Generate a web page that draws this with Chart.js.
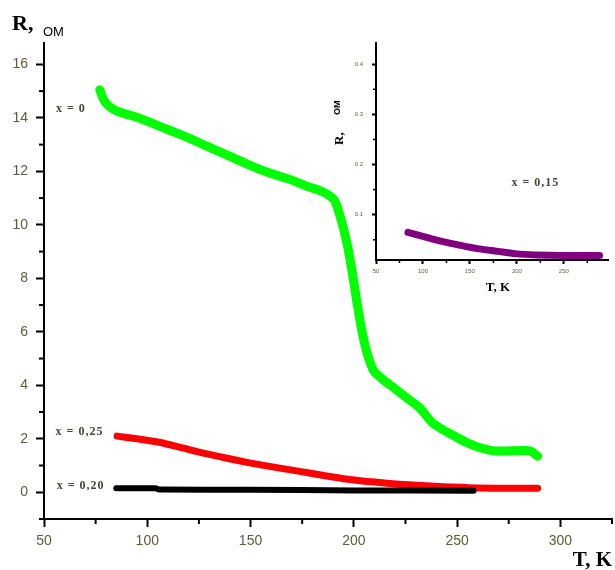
<!DOCTYPE html>
<html>
<head>
<meta charset="utf-8">
<script src="https://cdn.jsdelivr.net/npm/chart.js@4.4.0/dist/chart.umd.min.js"></script>
<style>
  html, body { margin: 0; padding: 0; background: #fff; }
  #wrap { position: relative; width: 615px; height: 570px; }
  #main-chart { position: absolute; left: 0; top: 0; }
  #inset-chart { position: absolute; left: 320px; top: 30px; }
</style>
</head>
<body>
<div id="wrap">
  <canvas id="main-chart" width="615" height="570"></canvas>
  <canvas id="inset-chart" width="295" height="275"></canvas>
</div>
<script>
// main plot: R (Ohm) vs T (K)
const tempX0 = [77, 78.5, 80, 83, 88, 96, 104, 112, 120, 128.6, 136, 144.7, 152, 160.7, 169, 177, 183, 187, 190.8, 194, 197, 199.5, 201.5, 204, 206.8, 210, 216, 222, 227, 232, 238, 244, 250, 255, 259.7, 267.5, 276, 285.4, 289];
const resX0  = [15.05, 14.75, 14.55, 14.35, 14.18, 14.0, 13.75, 13.5, 13.25, 12.95, 12.7, 12.4, 12.15, 11.9, 11.7, 11.45, 11.3, 11.15, 10.9, 10.15, 9.2, 8.1, 7.1, 6.0, 5.1, 4.5, 4.1, 3.75, 3.45, 3.15, 2.6, 2.3, 2.05, 1.85, 1.7, 1.55, 1.55, 1.55, 1.35];

const tempX25 = [85.4, 95, 105.8, 115, 125, 137, 149.5, 162, 173.8, 186, 198, 210, 222, 235, 246.6, 260, 275, 289];
const resX25  = [2.1, 2.0, 1.87, 1.7, 1.5, 1.3, 1.1, 0.93, 0.78, 0.62, 0.48, 0.38, 0.3, 0.24, 0.2, 0.16, 0.15, 0.15];

const tempX20 = [85, 104, 106, 150, 200, 258];
const resX20  = [0.15, 0.15, 0.1, 0.09, 0.07, 0.06];

// inset: x = 0,15
const tempX15 = [84, 100, 120, 140, 160, 180, 200, 220, 250, 288];
const resX15  = [0.065, 0.057, 0.047, 0.039, 0.032, 0.027, 0.022, 0.020, 0.019, 0.019];

const mainMinorX = [75, 125, 175, 225, 275, 325];
const mainMinorY = [-1, 1, 3, 5, 7, 9, 11, 13, 15];
const insetMinorX = [75, 125, 175, 225, 275];
const insetMinorY = [0.05, 0.15, 0.25, 0.35];

const tickColor = '#5c5c3a';
const labelColor = '#45453a';

function toPoints(xs, ys) {
    return xs.map((t, i) => ({ x: t, y: ys[i] }));
}

const minorTicks = {
    id: 'minorTicks',
    afterDraw(chart, args, opts) {
        const ctx = chart.ctx;
        const xs = chart.scales.x;
        const ys = chart.scales.y;
        ctx.save();
        ctx.strokeStyle = '#000';
        ctx.lineWidth = opts.width;
        opts.xValues.forEach(v => {
            const px = xs.getPixelForValue(v);
            ctx.beginPath();
            ctx.moveTo(px, xs.top);
            ctx.lineTo(px, xs.top + opts.length);
            ctx.stroke();
        });
        opts.yValues.forEach(v => {
            const py = ys.getPixelForValue(v);
            ctx.beginPath();
            ctx.moveTo(ys.right, py);
            ctx.lineTo(ys.right - opts.length, py);
            ctx.stroke();
        });
        ctx.restore();
    }
};

const textMarks = {
    id: 'textMarks',
    afterDraw(chart, args, opts) {
        const ctx = chart.ctx;
        const xs = chart.scales.x;
        const ys = chart.scales.y;
        opts.items.forEach(it => {
            ctx.save();
            let px = it.px, py = it.py;
            if (it.t !== undefined) {
                px = xs.getPixelForValue(it.t);
                py = ys.getPixelForValue(it.r);
            }
            ctx.translate(px, py);
            if (it.rotate) ctx.rotate(it.rotate);
            ctx.font = it.font;
            if (it.spacing) ctx.letterSpacing = it.spacing;
            ctx.fillStyle = it.color || '#000';
            ctx.textAlign = it.align || 'left';
            ctx.textBaseline = it.baseline || 'alphabetic';
            ctx.fillText(it.text, it.dx || 0, it.dy || 0);
            ctx.restore();
        });
    }
};

function axis(min, max, step, size, tickLen, pad, fitSize, horizontal, labelFn) {
    return {
        type: 'linear',
        min: min,
        max: max,
        afterFit: s => { if (horizontal) s.height = fitSize; else s.width = fitSize; },
        ticks: {
            stepSize: step,
            includeBounds: false,
            autoSkip: false,
            maxRotation: 0,
            color: tickColor,
            padding: pad,
            font: { family: 'Liberation Sans, Arial, sans-serif', size: size },
            callback: labelFn
        },
        grid: { drawOnChartArea: false, drawTicks: true, tickLength: tickLen, tickColor: '#000', tickWidth: 2 },
        border: { display: true, color: '#000', width: 2 }
    };
}

const serif = '"Liberation Serif", "Times New Roman", serif';
const seriesFont = 'bold 12px ' + serif;

new Chart(document.getElementById('main-chart').getContext('2d'), {
    type: 'line',
    data: {
        datasets: [
            { data: toPoints(tempX20, resX20), borderColor: '#000', borderWidth: 6 },
            { data: toPoints(tempX25, resX25), borderColor: '#ff0000', borderWidth: 7 },
            { data: toPoints(tempX0, resX0), borderColor: '#00ff00', borderWidth: 9 }
        ].map(d => Object.assign(d, { pointRadius: 0, fill: false, tension: 0.2, borderJoinStyle: 'round', borderCapStyle: 'round' }))
    },
    options: {
        responsive: false,
        animation: false,
        events: [],
        layout: { padding: { top: 43, right: 3, left: 0, bottom: 0 } },
        plugins: {
            legend: { display: false },
            tooltip: { enabled: false },
            minorTicks: { xValues: mainMinorX, yValues: mainMinorY, length: 5, width: 2 },
            textMarks: {
                items: [
                    { text: 'R,', px: 12, py: 30, font: 'bold 22px ' + serif },
                    { text: 'ОМ', px: 43, py: 36, font: '13px "Liberation Sans", Arial, sans-serif' },
                    { text: 'T, K', px: 612, py: 566, align: 'right', font: 'bold 21px ' + serif },
                    { text: 'x = 0', t: 63, r: 14.35, align: 'center', baseline: 'middle', font: seriesFont, spacing: '1px', color: labelColor },
                    { text: 'x = 0,25', t: 67.2, r: 2.27, align: 'center', baseline: 'middle', font: seriesFont, spacing: '1px', color: labelColor },
                    { text: 'x = 0,20', t: 67.7, r: 0.22, align: 'center', baseline: 'middle', font: seriesFont, spacing: '1px', color: labelColor }
                ]
            }
        },
        scales: {
            x: axis(50, 325, 50, 14, 8, 6, 51, true, v => v),
            y: axis(-1, 16.8, 2, 14, 8, 8, 44, false, v => v)
        }
    },
    plugins: [minorTicks, textMarks]
});

new Chart(document.getElementById('inset-chart').getContext('2d'), {
    type: 'line',
    data: {
        datasets: [
            { data: toPoints(tempX15, resX15), borderColor: '#800080', borderWidth: 7, pointRadius: 0, fill: false, tension: 0.2, borderCapStyle: 'round' }
        ]
    },
    options: {
        responsive: false,
        animation: false,
        events: [],
        layout: { padding: { top: 10, right: 7, left: 0, bottom: 0 } },
        plugins: {
            legend: { display: false },
            tooltip: { enabled: false },
            minorTicks: { xValues: insetMinorX, yValues: insetMinorY, length: 3, width: 1.5 },
            textMarks: {
                items: [
                    { text: 'R,', px: 23, py: 115, rotate: -Math.PI / 2, font: 'bold 13px ' + serif },
                    { text: 'ОМ', px: 23, py: 115, dx: 30, dy: -3, rotate: -Math.PI / 2, font: 'bold 9px "Liberation Sans", Arial, sans-serif' },
                    { text: 'T, K', px: 178, py: 258, align: 'center', baseline: 'middle', font: 'bold 13px ' + serif },
                    { text: 'x = 0,15', t: 219.7, r: 0.163, align: 'center', baseline: 'middle', font: seriesFont, spacing: '1px', color: labelColor }
                ]
            }
        },
        scales: {
            x: axis(50, 297, 50, 6, 4, 4, 45, true, v => v),
            y: axis(0.0098, 0.443, 0.1, 6, 4, 9, 56, false, v => v.toFixed(1))
        }
    },
    plugins: [minorTicks, textMarks]
});
</script>
</body>
</html>
